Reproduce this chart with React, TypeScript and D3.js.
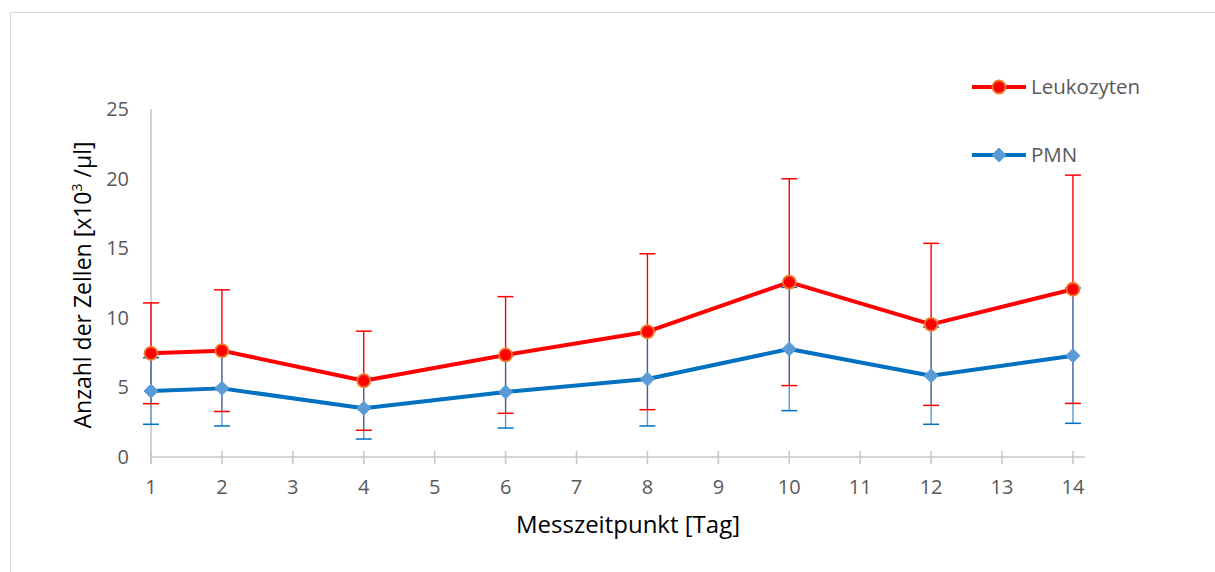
import React from "react";
import * as d3 from "d3";

const days = [1, 2, 4, 6, 8, 10, 12, 14];
const xTickLabels = [1, 2, 3, 4, 5, 6, 7, 8, 9, 10, 11, 12, 13, 14];
const yTicks = [0, 5, 10, 15, 20, 25];
const leukoMean = [7.45, 7.64, 5.48, 7.33, 9.0, 12.56, 9.53, 12.05];
const leukoSD = [3.62, 4.37, 3.56, 4.19, 5.6, 7.43, 5.82, 8.2];
const pmnMean = [4.74, 4.93, 3.5, 4.67, 5.6, 7.76, 5.84, 7.28];
const pmnSD = [2.39, 2.7, 2.21, 2.59, 3.37, 4.43, 3.49, 4.86];
const seriesNames = ["Leukozyten", "PMN"];

const W = 1215;
const H = 572;
const FONT = "'Open Sans', 'Noto Sans', sans-serif";

export default function App() {
  const x = d3.scaleLinear().domain([1, 14.17]).range([151, 1085]);
  const y = d3.scaleLinear().domain([0, 25]).range([457, 109]);
  const line = d3
    .line<number>()
    .x((_, i) => x(days[i]))
    .y((d) => y(d));

  const RED = "#FF0000";
  const BLUE = "#0070C0";
  const LIGHTBLUE = "#5B9BD5";
  const NAVY = "#42599A";
  const capW = 8;

  const errBars = days.map((d, i) => {
    const rLo = leukoMean[i] - leukoSD[i];
    const rHi = leukoMean[i] + leukoSD[i];
    const bLo = pmnMean[i] - pmnSD[i];
    const bHi = pmnMean[i] + pmnSD[i];
    const oLo = Math.max(rLo, bLo);
    const oHi = Math.min(rHi, bHi);
    const cx = x(d);
    const segs: { a: number; b: number; c: string }[] = [];
    if (rHi > oHi) segs.push({ a: Math.max(oHi, rLo), b: rHi, c: RED });
    if (rLo < oLo) segs.push({ a: rLo, b: Math.min(oLo, rHi), c: RED });
    if (bHi > oHi) segs.push({ a: Math.max(oHi, bLo), b: bHi, c: LIGHTBLUE });
    if (bLo < oLo) segs.push({ a: bLo, b: Math.min(oLo, bHi), c: LIGHTBLUE });
    if (oHi > oLo) segs.push({ a: oLo, b: oHi, c: NAVY });
    return (
      <g key={i}>
        {segs.map((s, j) => (
          <line key={j} x1={cx} x2={cx} y1={y(s.a)} y2={y(s.b)} stroke={s.c} strokeWidth={1.4} />
        ))}
        <line x1={cx - capW} x2={cx + capW} y1={y(rHi)} y2={y(rHi)} stroke={RED} strokeWidth={1.5} />
        <line x1={cx - capW} x2={cx + capW} y1={y(rLo)} y2={y(rLo)} stroke={RED} strokeWidth={1.5} />
        <line x1={cx - capW} x2={cx + capW} y1={y(bHi)} y2={y(bHi)} stroke={BLUE} strokeWidth={1.5} />
        <line x1={cx - capW} x2={cx + capW} y1={y(bLo)} y2={y(bLo)} stroke={BLUE} strokeWidth={1.5} />
      </g>
    );
  });

  const diamond = (cx: number, cy: number, r: number) =>
    `M${cx},${cy - r}L${cx + r},${cy}L${cx},${cy + r}L${cx - r},${cy}Z`;

  return (
    <svg
      width={W}
      height={H}
      style={{ position: "absolute", left: 0, top: 0, background: "#fff" }}
      fontFamily={FONT}
    >
      <rect x={10.5} y={12.5} width={W + 20} height={H + 20} fill="#fff" stroke="#D9D9D9" strokeWidth={1} />

      <line x1={x(1)} x2={x(1)} y1={y(25)} y2={y(0) + 7} stroke="#C8C8C8" strokeWidth={1.6} />
      <line x1={x(1)} x2={x.range()[1]} y1={y(0)} y2={y(0)} stroke="#C8C8C8" strokeWidth={1.6} />
      {xTickLabels.map((t) => (
        <g key={t}>
          <line x1={x(t)} x2={x(t)} y1={y(0) - 6} y2={y(0) + 7} stroke="#C8C8C8" strokeWidth={1.6} />
          <text x={x(t)} y={y(0) + 37} textAnchor="middle" fontSize={20} fill="#595959">
            {t}
          </text>
        </g>
      ))}
      {yTicks.map((t) => (
        <text key={t} x={129} y={y(t) + 7} textAnchor="end" fontSize={20} fill="#595959">
          {t}
        </text>
      ))}

      <text x={628} y={533} textAnchor="middle" fontSize={24} fill="#000">
        Messzeitpunkt [Tag]
      </text>
      <text transform="translate(91,285) rotate(-90)" textAnchor="middle" fontSize={23} fill="#000">
        Anzahl der Zellen [x10
        <tspan fontSize={14} dy={-9}>3</tspan>
        <tspan dy={9}> /µl]</tspan>
      </text>

      {errBars}

      <path d={line(pmnMean) || ""} fill="none" stroke={BLUE} strokeWidth={4} strokeLinejoin="round" />
      <path d={line(leukoMean) || ""} fill="none" stroke={RED} strokeWidth={4} strokeLinejoin="round" />

      {pmnMean.map((v, i) => (
        <path key={i} d={diamond(x(days[i]), y(v), 7)} fill={LIGHTBLUE} stroke={LIGHTBLUE} strokeWidth={1} />
      ))}
      {leukoMean.map((v, i) => (
        <circle key={i} cx={x(days[i])} cy={y(v)} r={6.5} fill={RED} stroke="#ED7D31" strokeWidth={1.8} />
      ))}

      <g>
        <line x1={972} x2={1026} y1={87} y2={87} stroke={RED} strokeWidth={4} />
        <circle cx={999} cy={87} r={6.5} fill={RED} stroke="#ED7D31" strokeWidth={1.8} />
        <text x={1031} y={94} fontSize={20.5} fill="#595959">
          {seriesNames[0]}
        </text>
        <line x1={972} x2={1026} y1={155} y2={155} stroke={BLUE} strokeWidth={4} />
        <path d={diamond(999, 155, 7)} fill={LIGHTBLUE} stroke={LIGHTBLUE} strokeWidth={1} />
        <text x={1031} y={162} fontSize={20.5} fill="#595959">
          {seriesNames[1]}
        </text>
      </g>
    </svg>
  );
}
